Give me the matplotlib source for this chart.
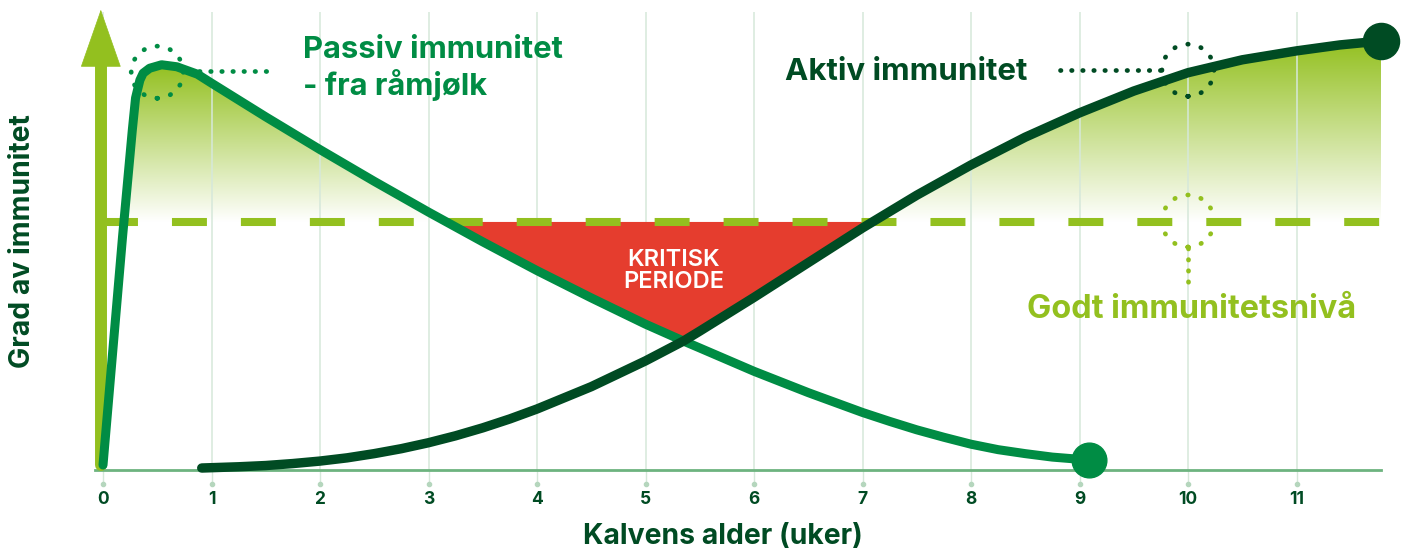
import numpy as np
import matplotlib
matplotlib.use('Agg')
import matplotlib.pyplot as plt
from matplotlib.colors import LinearSegmentedColormap
from matplotlib.patches import Ellipse

plt.rcParams['font.family'] = ['Inter', 'DejaVu Sans']

# colours
LIME = '#93c01f'
PASSIVE_C = '#008c44'
ACTIVE_C = '#004b23'
RED = '#e53d2e'
AXIS_C = '#6db37f'
GRID_C = '#d6e8da'

# data, weeks vs. level of immunity
weeks = list(range(12))
good_level = 5.0

passive_x = np.array([0.0, 0.18, 0.27, 0.30, 0.34, 0.37, 0.43, 0.54, 0.68, 0.87, 1.0, 1.5, 2.0,
                      2.5, 3.0, 3.5, 4.0, 4.5, 5.0, 5.35, 5.5, 6.0, 6.5, 7.0, 7.25, 7.5, 7.75,
                      8.0, 8.25, 8.5, 8.75, 9.09])
passive_y = np.array([0.1, 4.7, 6.85, 7.5, 7.86, 8.0, 8.1, 8.17, 8.13, 7.98, 7.8, 7.12, 6.46,
                      5.82, 5.2, 4.6, 4.02, 3.47, 2.94, 2.6, 2.46, 1.99, 1.56, 1.16, 0.98, 0.81,
                      0.66, 0.52, 0.41, 0.33, 0.26, 0.2])

active_x = np.array([0.91, 1.25, 1.5, 1.75, 2.0, 2.25, 2.5, 2.75, 3.0, 3.25, 3.5, 3.75, 4.0,
                     4.5, 5.0, 5.35, 5.5, 6.0, 6.5, 7.0, 7.5, 8.0, 8.5, 9.0, 9.5, 10.0, 10.5,
                     11.0, 11.4, 11.78])
active_y = np.array([0.04, 0.065, 0.09, 0.13, 0.18, 0.245, 0.33, 0.43, 0.55, 0.69, 0.85, 1.03,
                     1.23, 1.68, 2.2, 2.6, 2.8, 3.48, 4.18, 4.88, 5.54, 6.15, 6.71, 7.2, 7.64,
                     8.01, 8.27, 8.45, 8.57, 8.65])
cross = 5.35

fig = plt.figure(figsize=(14.05, 5.54), dpi=100)
ax = fig.add_axes([95 / 1405, 84 / 554, 1286 / 1405, 458 / 554])

# gradient fills above the "good level"
cmap = LinearSegmentedColormap.from_list('fade', ['white', LIME])
grad = np.linspace(0, 1, 256).reshape(-1, 1)

poly_p = ax.fill_between(passive_x, passive_y, good_level, where=passive_y >= good_level,
                         interpolate=True, color='none', lw=0)
im_p = ax.imshow(grad, extent=[0, 3.5, good_level, passive_y.max()], origin='lower',
                 cmap=cmap, aspect='auto', zorder=1)
im_p.set_clip_path(poly_p.get_paths()[0], transform=ax.transData)

poly_a = ax.fill_between(active_x, active_y, good_level, where=active_y >= good_level,
                         interpolate=True, color='none', lw=0)
im_a = ax.imshow(grad, extent=[6.9, 11.8, good_level, active_y.max()], origin='lower',
                 cmap=cmap, aspect='auto', zorder=1)
im_a.set_clip_path(poly_a.get_paths()[0], transform=ax.transData)

# grid lines
for w in weeks:
    ax.axvline(w, color=GRID_C, lw=1.1, zorder=1.5)

# critical period
ax.fill_between(passive_x, passive_y, good_level,
                where=(passive_y <= good_level) & (passive_x >= 2) & (passive_x <= cross),
                interpolate=True, facecolor=RED, edgecolor=RED, lw=0.8, zorder=2)
ax.fill_between(active_x, active_y, good_level,
                where=(active_y <= good_level) & (active_x >= cross),
                interpolate=True, facecolor=RED, edgecolor=RED, lw=0.8, zorder=2)
ax.text(5.26, 4.02, 'KRITISK\nPERIODE', color='white', fontsize=17, fontweight='semibold',
        ha='center', va='center', linespacing=1.0, zorder=6)

# good immunity level
ax.plot([0, 11.78], [good_level, good_level], color=LIME, lw=5.8,
        linestyle=(0, (4.34, 4.22)), dash_capstyle='butt', zorder=3)

# y arrow
ax.plot([-0.02, -0.02], [0.1, 8.5], color=LIME, lw=8.6, solid_capstyle='round',
        zorder=3, clip_on=False)
ax.annotate('', xy=(-0.02, 9.28), xytext=(-0.02, 8.2),
            arrowprops=dict(arrowstyle='-|>,head_length=40,head_width=14', mutation_scale=1,
                            color=LIME, lw=0.5, shrinkA=0, shrinkB=0),
            zorder=3, annotation_clip=False)

# curves
ax.plot(passive_x, passive_y, color=PASSIVE_C, lw=6.5, solid_capstyle='round',
        solid_joinstyle='round', zorder=4, clip_on=False)
ax.plot(passive_x[-1], passive_y[-1], 'o', ms=25, color=PASSIVE_C, zorder=4, clip_on=False)
ax.plot(active_x, active_y, color=ACTIVE_C, lw=6.8, solid_capstyle='round',
        solid_joinstyle='round', zorder=5, clip_on=False)
ax.plot(active_x[-1], active_y[-1], 'o', ms=26, color=ACTIVE_C, zorder=5, clip_on=False)

# dotted callouts
dots = dict(linestyle=(0, (0.1, 2.25)), dash_capstyle='round', lw=3.4)
for (cx, cy), col in [((0.5, 8.02), PASSIVE_C), ((10.0, 8.06), ACTIVE_C), ((10.0, 5.02), LIME)]:
    e = Ellipse((cx, cy), 0.48, 1.05, fill=False, edgecolor=col, zorder=6,
                linestyle=(0, (0.1, 2.78)), capstyle='round', lw=3.4)
    ax.add_patch(e)
ax.plot([0.78, 1.54], [8.04, 8.04], color=PASSIVE_C, zorder=6, **dots)
ax.plot([8.82, 9.74], [8.06, 8.06], color=ACTIVE_C, zorder=6, **dots)
ax.plot([10.0, 10.0], [4.48, 3.65], color=LIME, zorder=6, **dots)

# labels
ax.text(1.84, 8.1, 'Passiv immunitet\n- fra råmjølk', color=PASSIVE_C, fontsize=22.3,
        fontweight='bold', ha='left', va='center', linespacing=1.2, zorder=6)
ax.text(6.29, 8.02, 'Aktiv immunitet', color=ACTIVE_C, fontsize=22.5, fontweight='bold',
        ha='left', va='center', zorder=6)
ax.text(8.52, 3.23, 'Godt immunitetsnivå', color=LIME, fontsize=23.3, fontweight='bold',
        ha='left', va='center', zorder=6)

# axes
ax.set_xlim((95 - 103) / 108.5, (1381 - 103) / 108.5)
ax.set_ylim(0, (470 - 12) / 49.6)
for s in ['top', 'right', 'left']:
    ax.spines[s].set_visible(False)
ax.spines['bottom'].set_color(AXIS_C)
ax.spines['bottom'].set_linewidth(2)
ax.set_yticks([])
ax.set_xticks(weeks)
ax.set_xticklabels([str(w) for w in weeks])
ax.tick_params(axis='x', length=10, width=1, color=GRID_C, pad=5, labelsize=12.5,
               labelcolor=ACTIVE_C)
for lbl in ax.get_xticklabels():
    lbl.set_fontweight('bold')
ax.plot(weeks, [-0.28] * len(weeks), 'o', ms=3, color='#b5d6bd', clip_on=False, zorder=2)

ax.set_xlabel('Kalvens alder (uker)', fontsize=20.4, fontweight='bold', color=ACTIVE_C)
ax.xaxis.set_label_coords((723 - 95) / 1286, (470 - 523) / 458)
ax.set_ylabel('Grad av immunitet', fontsize=20.4, fontweight='bold', color=ACTIVE_C)
ax.yaxis.set_label_coords((36 - 95) / 1286, (470 - 241) / 458)

fig.savefig('out.png', dpi=100)
